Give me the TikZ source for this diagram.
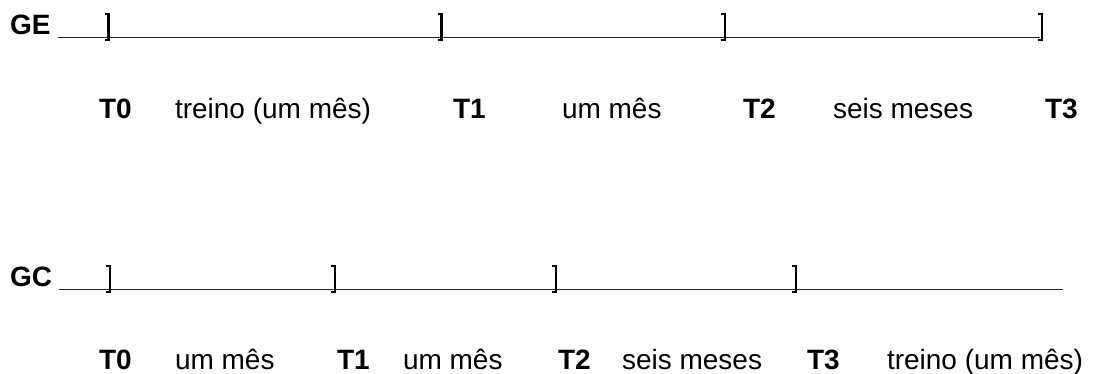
\documentclass[tikz,border=0pt]{standalone}
\usepackage{fontspec}
\setmainfont{Liberation Sans}
\newcommand{\tlbracket}[2]{%
  \draw[brk] ({#1-4},{#2-21}) -- (#1,{#2-21}) -- (#1,{#2+5}) -- ({#1-4},{#2+5});}
\begin{document}
\begin{tikzpicture}[x=1pt,y=-1pt,
  every node/.style={inner sep=0pt, outer sep=0pt, anchor=base west,
    font=\fontsize{28pt}{34pt}\selectfont},
  grp/.style={font=\fontsize{28pt}{34pt}\selectfont\bfseries},
  tlab/.style={font=\fontsize{28pt}{34pt}\selectfont\bfseries},
  per/.style={},
  uline/.style={line width=1.6pt, draw=black!85},
  brk/.style={line width=2.2pt, line cap=butt, line join=miter}]
\useasboundingbox (0,0) rectangle (1095,374);
% ---------- GE ----------
\node[grp] (ge) at (10,35) {GE};
\coordinate (geS) at (58,37.5);
\coordinate (geE) at (1040,37.5);
\draw[uline] (geS) -- (geE);
\tlbracket{108.5}{35}
\tlbracket{441.5}{35}
\tlbracket{725}{35}
\tlbracket{1042}{35}
\node[tlab] (ge0) at (99,119) {T0};
\node[per]  (gep1) at (175,119) {treino (um mês)};
\node[tlab] (ge1) at (453,119) {T1};
\node[per]  (gep2) at (562,119) {um mês};
\node[tlab] (ge2) at (743,119) {T2};
\node[per]  (gep3) at (833,119) {seis meses};
\node[tlab] (ge3) at (1045,119) {T3};
% ---------- GC ----------
\node[grp] (gc) at (10,287) {GC};
\coordinate (gcS) at (59,289.5);
\coordinate (gcE) at (1063,289.5);
\draw[uline] (gcS) -- (gcE);
\tlbracket{110}{287}
\tlbracket{335}{287}
\tlbracket{556}{287}
\tlbracket{796}{287}
\node[tlab] (gc0) at (99,369) {T0};
\node[per]  (gcp1) at (175,369) {um mês};
\node[tlab] (gc1) at (337,369) {T1};
\node[per]  (gcp2) at (403,369) {um mês};
\node[tlab] (gc2) at (558,369) {T2};
\node[per]  (gcp3) at (622,369) {seis meses};
\node[tlab] (gc3) at (807,369) {T3};
\node[per]  (gcp4) at (887,369) {treino (um mês)};
\end{tikzpicture}
\end{document}
